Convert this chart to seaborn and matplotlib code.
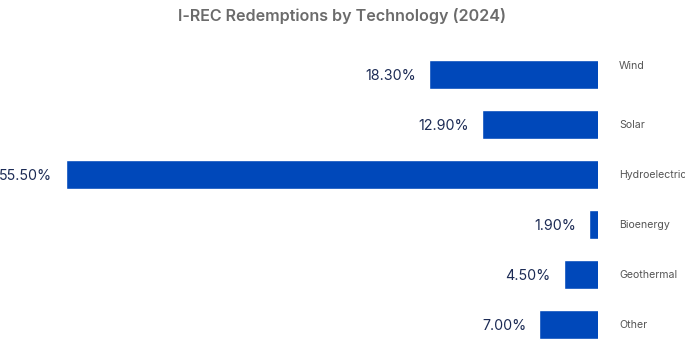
import matplotlib
matplotlib.use("Agg")
import matplotlib.pyplot as plt
import seaborn as sns
import pandas as pd

categories = ["Wind", "Solar", "Hydroelectric", "Bioenergy", "Geothermal", "Other"]
shares = [18.3, 12.9, 55.5, 1.9, 4.5, 7.0]
value_labels = ["18.30%", "12.90%", "55.50%", "1.90%", "4.50%", "7.00%"]
title = "I-REC Redemptions by Technology (2024)"

df = pd.DataFrame({"Technology": categories, "Share": shares})

sns.set_style("white")
plt.rcParams["font.family"] = ["Inter", "DejaVu Sans"]

W, H = 685, 340
fig = plt.figure(figsize=(W / 100, H / 100), dpi=100)
ax_left_px, ax_right_px = 0, 598
ax_top_px, ax_bot_px = 49.5, 340
ax = fig.add_axes([ax_left_px / W, 1 - ax_bot_px / H,
                   (ax_right_px - ax_left_px) / W, (ax_bot_px - ax_top_px) / H])

sns.barplot(data=df, x="Share", y="Technology", orient="h", color="#0048BA",
            saturation=1, width=0.58, ax=ax)

px_per_unit = 9.77
ax.set_xlim(1.0 + (ax_right_px - ax_left_px) / px_per_unit, 1.0)
ax.set_ylim((ax_bot_px - 74.5) / 50, -0.5)

for i, (v, lab, cat) in enumerate(zip(shares, value_labels, categories)):
    ax.annotate(lab, xy=(v, i), xytext=(-9.5, -1), textcoords="offset points",
                ha="right", va="center", fontsize=10.3, color="#1c2b55",
                annotation_clip=False)
    dy = 6 if i == 0 else 0
    ax.annotate(cat, xy=(1.0, i), xytext=(15.1, dy), textcoords="offset points",
                ha="left", va="center", fontsize=7.6, color="#555555",
                annotation_clip=False)

ax.set_xlabel("")
ax.set_ylabel("")
ax.set_xticks([])
ax.set_yticks([])
for s in ax.spines.values():
    s.set_visible(False)

fig.text(0.5, 1 - 15.5 / H, title, ha="center", va="center", fontsize=11.6,
         fontweight="semibold", color="#6b6b6b")

fig.savefig("out.png", dpi=100)
